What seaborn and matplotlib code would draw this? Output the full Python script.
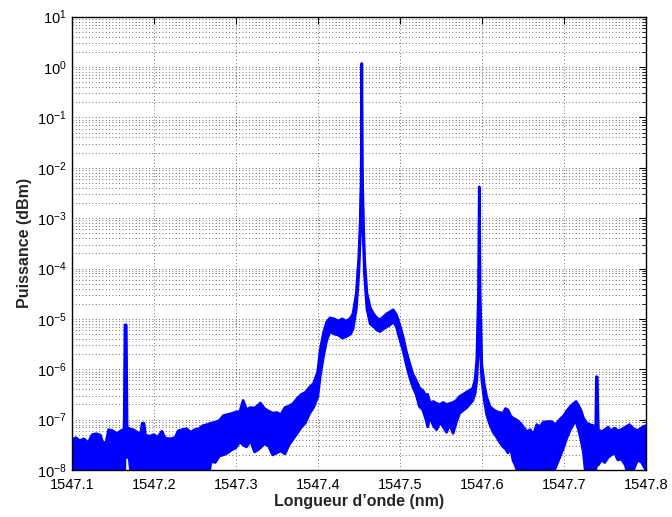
import numpy as np
import pandas as pd
import seaborn as sns
import matplotlib.pyplot as plt
from matplotlib.ticker import FixedLocator, NullFormatter, LogFormatterSciNotation

# spectrum: wavelength (nm), upper and lower edge of the
# noisy trace, given as exponents of ten (power = 10**exp)
wavelength = [
    1547.100, 1547.105, 1547.110, 1547.115, 1547.120, 1547.125, 1547.130, 1547.135,
    1547.138, 1547.142, 1547.145, 1547.150, 1547.155, 1547.160, 1547.163, 1547.164,
    1547.165, 1547.1665, 1547.1675, 1547.170, 1547.175, 1547.180, 1547.184, 1547.186,
    1547.188, 1547.190, 1547.195, 1547.200, 1547.205, 1547.210, 1547.214, 1547.220,
    1547.226, 1547.230, 1547.235, 1547.240, 1547.245, 1547.250, 1547.255, 1547.260,
    1547.265, 1547.270, 1547.275, 1547.280, 1547.285, 1547.290, 1547.295, 1547.300,
    1547.305, 1547.309, 1547.313, 1547.318, 1547.323, 1547.327, 1547.330, 1547.335,
    1547.340, 1547.345, 1547.350, 1547.355, 1547.360, 1547.365, 1547.370, 1547.375,
    1547.380, 1547.385, 1547.390, 1547.395, 1547.400, 1547.403, 1547.407, 1547.411,
    1547.415, 1547.420, 1547.425, 1547.430, 1547.435, 1547.440, 1547.443, 1547.447,
    1547.450, 1547.452, 1547.453, 1547.4537, 1547.4545, 1547.4555, 1547.457, 1547.460,
    1547.464, 1547.468, 1547.472, 1547.476, 1547.480, 1547.484, 1547.488, 1547.492,
    1547.496, 1547.500, 1547.504, 1547.508, 1547.512, 1547.516, 1547.520, 1547.524,
    1547.528, 1547.532, 1547.534, 1547.537, 1547.541, 1547.545, 1547.549, 1547.553,
    1547.557, 1547.561, 1547.565, 1547.569, 1547.573, 1547.577, 1547.581, 1547.585,
    1547.589, 1547.592, 1547.594, 1547.596, 1547.597, 1547.598, 1547.600, 1547.603,
    1547.606, 1547.610, 1547.614, 1547.618, 1547.622, 1547.626, 1547.629, 1547.632,
    1547.635, 1547.638, 1547.642, 1547.647, 1547.651, 1547.655, 1547.659, 1547.663,
    1547.667, 1547.671, 1547.675, 1547.680, 1547.685, 1547.690, 1547.695, 1547.700,
    1547.704, 1547.708, 1547.712, 1547.715, 1547.718, 1547.721, 1547.724, 1547.728,
    1547.732, 1547.736, 1547.739, 1547.7398, 1547.7408, 1547.742, 1547.746, 1547.750,
    1547.754, 1547.758, 1547.762, 1547.766, 1547.770, 1547.775, 1547.780, 1547.785,
    1547.790, 1547.795, 1547.800,
]
upper_exp = [
    -7.40, -7.36, -7.42, -7.38, -7.46, -7.30, -7.28, -7.31,
    -7.46, -7.45, -7.20, -7.22, -7.28, -7.22, -7.20, -7.20,
    -5.12, -5.12, -7.15, -7.18, -7.20, -7.25, -7.30, -7.07,
    -7.07, -7.31, -7.33, -7.30, -7.35, -7.23, -7.37, -7.38,
    -7.36, -7.22, -7.20, -7.18, -7.25, -7.20, -7.18, -7.12,
    -7.10, -7.07, -7.05, -7.02, -6.92, -6.90, -6.88, -6.85,
    -6.84, -6.62, -6.80, -6.76, -6.77, -6.72, -6.67, -6.78,
    -6.83, -6.87, -6.86, -6.90, -6.76, -6.73, -6.68, -6.58,
    -6.50, -6.46, -6.36, -6.28, -6.05, -5.62, -5.28, -5.06,
    -4.98, -5.00, -5.04, -5.00, -5.05, -4.98, -4.90, -4.50,
    -3.80, -3.00, -2.20, 0.07, -2.20, -3.00, -3.80, -4.50,
    -4.78, -4.90, -4.98, -5.02, -4.96, -4.90, -4.86, -4.82,
    -4.92, -5.12, -5.35, -5.65, -5.88, -6.10, -6.22, -6.37,
    -6.42, -6.52, -6.50, -6.67, -6.64, -6.68, -6.70, -6.66,
    -6.70, -6.68, -6.66, -6.62, -6.54, -6.50, -6.46, -6.42,
    -6.38, -6.20, -5.80, -4.50, -2.38, -4.50, -5.90, -6.30,
    -6.55, -6.74, -6.80, -6.84, -6.86, -6.87, -6.78, -6.81,
    -6.92, -6.97, -7.00, -7.07, -7.15, -7.24, -7.20, -7.30,
    -7.10, -7.14, -7.05, -7.04, -7.04, -7.10, -7.00, -6.92,
    -6.82, -6.74, -6.68, -6.64, -6.72, -6.82, -6.97, -7.07,
    -7.10, -7.12, -7.15, -6.15, -6.15, -7.20, -7.24, -7.20,
    -7.15, -7.22, -7.17, -7.22, -7.20, -7.15, -7.10, -7.18,
    -7.22, -7.16, -7.12,
]
lower_exp = [
    -8.50, -8.50, -8.50, -8.50, -8.50, -8.50, -8.50, -8.50,
    -8.50, -8.50, -8.50, -8.50, -8.50, -8.50, -8.50, -8.50,
    -7.75, -7.75, -7.75, -7.75, -8.50, -8.50, -8.50, -8.50,
    -8.50, -8.50, -8.50, -8.50, -8.50, -8.50, -8.50, -8.50,
    -8.50, -8.50, -8.50, -8.50, -8.50, -8.50, -8.50, -8.50,
    -8.30, -7.83, -7.85, -7.72, -7.70, -7.66, -7.60, -7.56,
    -7.44, -7.50, -7.54, -7.42, -7.64, -7.60, -7.56, -7.48,
    -7.52, -7.70, -7.66, -7.62, -7.68, -7.50, -7.38, -7.27,
    -7.15, -7.06, -6.88, -6.75, -6.55, -6.14, -5.74, -5.42,
    -5.25, -5.30, -5.32, -5.38, -5.35, -5.30, -5.20, -4.80,
    -4.10, -3.30, -2.50, -2.00, -2.50, -3.30, -4.10, -4.80,
    -5.10, -5.15, -5.22, -5.25, -5.20, -5.16, -5.12, -5.05,
    -5.16, -5.40, -5.62, -5.90, -6.15, -6.35, -6.50, -6.74,
    -6.80, -7.00, -7.14, -6.95, -7.12, -7.20, -7.05, -7.14,
    -7.25, -7.10, -7.27, -7.05, -6.87, -6.82, -6.77, -6.70,
    -6.62, -6.47, -6.20, -5.50, -4.00, -5.50, -6.20, -6.60,
    -6.90, -7.10, -7.25, -7.34, -7.45, -7.54, -7.58, -7.66,
    -7.55, -7.80, -7.95, -8.30, -8.20, -8.40, -8.30, -8.40,
    -8.20, -8.10, -8.30, -8.20, -8.10, -7.95, -7.75, -7.54,
    -7.35, -7.20, -7.08, -7.04, -7.20, -7.40, -7.66, -8.30,
    -8.20, -8.30, -8.00, -7.90, -7.90, -7.90, -7.80, -7.85,
    -7.75, -7.70, -7.66, -7.80, -7.78, -7.90, -8.20, -8.00,
    -7.80, -7.85, -8.00,
]

xticks = [1547.1, 1547.2, 1547.3, 1547.4, 1547.5, 1547.6, 1547.7, 1547.8]
ydecades = [-8, -7, -6, -5, -4, -3, -2, -1, 0, 1]

df = pd.DataFrame({
    "wl": wavelength,
    "upper": 10.0 ** np.array(upper_exp),
    "lower": 10.0 ** np.array(lower_exp),
})

sns.set_style("white")
plt.rcParams["font.family"] = ["Liberation Sans", "DejaVu Sans"]
plt.rcParams["mathtext.default"] = "regular"

fig = plt.figure(figsize=(6.72, 5.17), dpi=100)
ax = fig.add_axes([0.1067, 0.0909, 0.8543, 0.8768])

blue = "#0000ff"
ax.fill_between(df["wl"], df["lower"], df["upper"], color=blue, linewidth=0)
sns.lineplot(data=df, x="wl", y="upper", ax=ax, color=blue, linewidth=2.0, sort=False)
sns.lineplot(data=df, x="wl", y="lower", ax=ax, color=blue, linewidth=2.0, sort=False)

ax.set_yscale("log")
ax.set_xlim(1547.1, 1547.8)
ax.set_ylim(1e-8, 1e1)
ax.xaxis.set_major_locator(FixedLocator(xticks))
ax.set_xticklabels([f"{t:.1f}" for t in xticks])
major_y = [10.0 ** d for d in ydecades]
minor_y = [m * 10.0 ** d for d in ydecades[:-1] for m in range(2, 10)]
ax.yaxis.set_major_locator(FixedLocator(major_y))
ax.yaxis.set_major_formatter(LogFormatterSciNotation())
ax.yaxis.set_minor_locator(FixedLocator(minor_y))
ax.yaxis.set_minor_formatter(NullFormatter())

ax.grid(True, which="major", axis="both", color="0.25", linestyle=(0, (1, 3)), linewidth=0.6)
ax.grid(True, which="minor", axis="y", color="0.25", linestyle=(0, (1, 3)), linewidth=0.6)

for s in ax.spines.values():
    s.set_color("black")
    s.set_linewidth(1.0)
ax.tick_params(axis="both", which="both", direction="in", top=True, right=True,
               colors="black", labelsize=10.5)
ax.tick_params(axis="both", which="major", length=5, width=0.8)
ax.tick_params(axis="x", which="major", pad=6)
ax.tick_params(axis="y", which="minor", length=3, width=0.6)

ax.set_xlabel("Longueur d’onde (nm)", fontsize=11.5, fontweight="bold", labelpad=1)
ax.set_ylabel("Puissance (dBm)", fontsize=11.5, fontweight="bold", labelpad=4)

fig.savefig("out.png", dpi=100)
